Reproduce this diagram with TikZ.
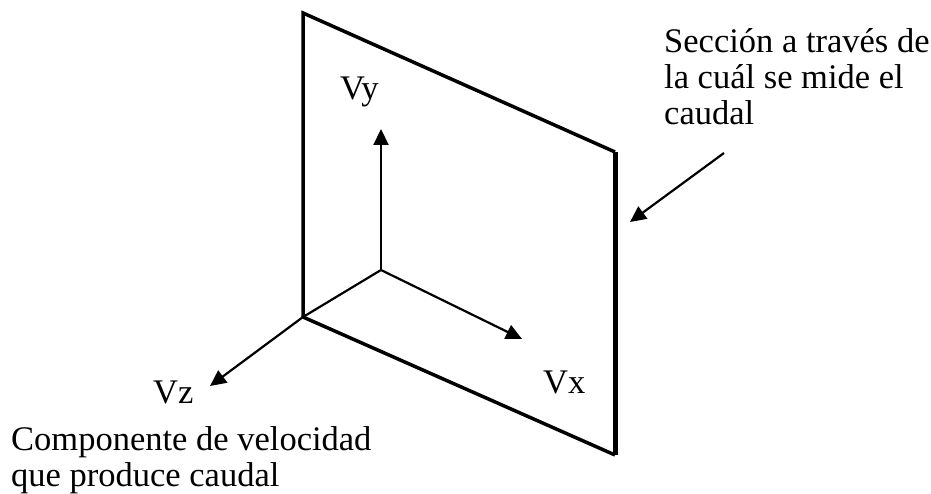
\documentclass[tikz,border=0pt]{standalone}
\usepackage{fontspec}
\setmainfont{Liberation Serif}
\usetikzlibrary{arrows.meta}
\tikzset{
  edge/.style={line width=3.5pt, line join=miter},
  redge/.style={line width=5pt},
  axis/.style={line width=2.2pt, -{Triangle[length=16pt,width=15pt]}},
  lbl/.style={inner sep=0pt, font=\fontsize{34.5}{36}\selectfont},
}
\begin{document}
\begin{tikzpicture}[x=1pt,y=-1pt]
\useasboundingbox (0,0) rectangle (931,494);
% plane corners
\coordinate (TL) at (303,13);
\coordinate (TR) at (615,152);
\coordinate (BR) at (615,455);
\coordinate (BL) at (303,317);
% axes
\coordinate (O) at (381,270);
\coordinate (Ytip) at (381,129);
\coordinate (Xtip) at (522,339);
\coordinate (Ztip) at (210,386);
\coordinate (Astart) at (724,153);
\coordinate (Atip) at (630,222);

\draw[edge] (BL) -- (TL) -- (TR);
\draw[edge] (BL) -- (BR);
\draw[redge] (TR) -- (BR);

\draw[axis] (O) -- (Ytip);
\draw[axis] (O) -- (Xtip);
\draw[axis] (O) -- (BL) -- (Ztip);
\draw[axis] (Astart) -- (Atip);

\node[lbl, anchor=base west] (vy) at (340,100) {Vy};
\node[lbl, anchor=base west] (vx) at (543,393) {Vx};
\node[lbl, anchor=base west] (vz) at (153,403) {Vz};
\node[lbl, anchor=base west, align=left] (sec) at (664,125) {Sección a través de\\la cuál se mide el\\caudal};
\node[lbl, anchor=base west, align=left] (comp) at (11,486) {Componente de velocidad\\que produce caudal};
\end{tikzpicture}
\end{document}
